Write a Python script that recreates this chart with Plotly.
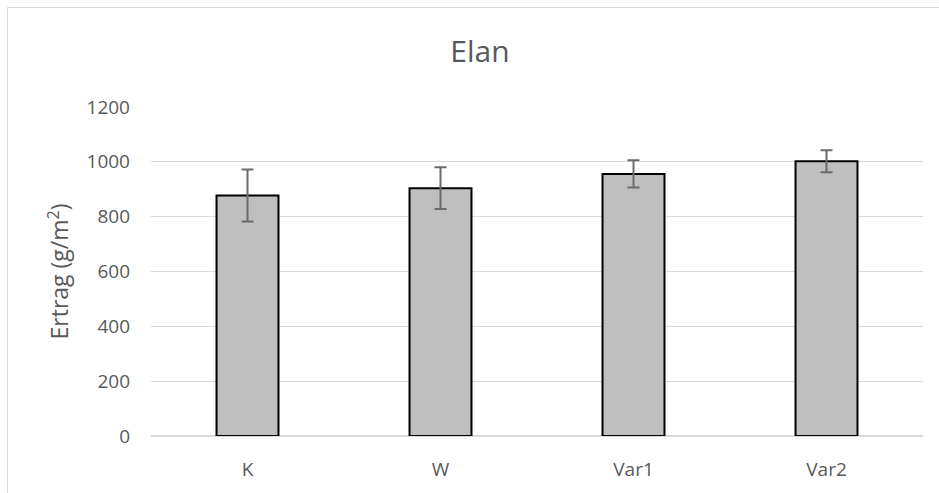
import plotly.graph_objects as go

categories = ["K", "W", "Var1", "Var2"]
values = [877, 904, 956, 1002]
errors = [95, 76, 50, 40]
y_ticks = [0, 200, 400, 600, 800, 1000, 1200]

TXT = "#595959"
GRID = "#D9D9D9"
FONT = "Open Sans"

fig = go.Figure()
fig.add_trace(go.Bar(
    x=categories, y=values,
    marker=dict(color="#BFBFBF", line=dict(color="black", width=2)),
    error_y=dict(type="data", array=errors, visible=True,
                 color="#6B6B6B", thickness=2, width=6),
    showlegend=False,
))

L, R, T, B = 151, 16, 107, 57
W, H = 939, 493
pw = W - L - R
ph = H - T - B

fig.update_layout(
    width=W, height=H,
    margin=dict(l=L, r=R, t=T, b=B),
    paper_bgcolor="white", plot_bgcolor="white",
    bargap=0.679,
    font=dict(family=FONT, color=TXT, size=19),
    title=dict(text="Elan", font=dict(family=FONT, size=30, color=TXT),
               x=480 / W, xref="container", xanchor="center",
               y=1 - 51 / H, yref="container", yanchor="middle"),
    xaxis=dict(showgrid=False, showline=False, ticks="",
               tickfont=dict(family=FONT, size=19, color=TXT),
               ticklabelstandoff=20),
    yaxis=dict(range=[0, 1200], tickvals=y_ticks,
               showgrid=True, gridcolor=GRID, gridwidth=1,
               zeroline=True, zerolinecolor=GRID, zerolinewidth=1.5,
               showline=False, ticks="",
               tickfont=dict(family=FONT, size=19, color=TXT),
               ticklabelstandoff=20),
    annotations=[dict(
        text="Ertrag (g/m<sup>2</sup>)", textangle=-90,
        xref="paper", yref="paper",
        x=(58 - L) / pw, y=0.5, xanchor="center", yanchor="middle",
        showarrow=False, font=dict(family=FONT, size=23, color=TXT),
    )],
    shapes=[dict(
        type="rect", xref="paper", yref="paper",
        x0=(7.5 - L) / pw, x1=1.2, y0=-0.5, y1=(H - B - 7.5) / ph,
        line=dict(color=GRID, width=1), fillcolor="rgba(0,0,0,0)", layer="below",
    )],
)

fig.write_html("out.html",
               config={"displayModeBar": False},
               post_script="document.body.style.margin='0';document.body.style.padding='0';")
